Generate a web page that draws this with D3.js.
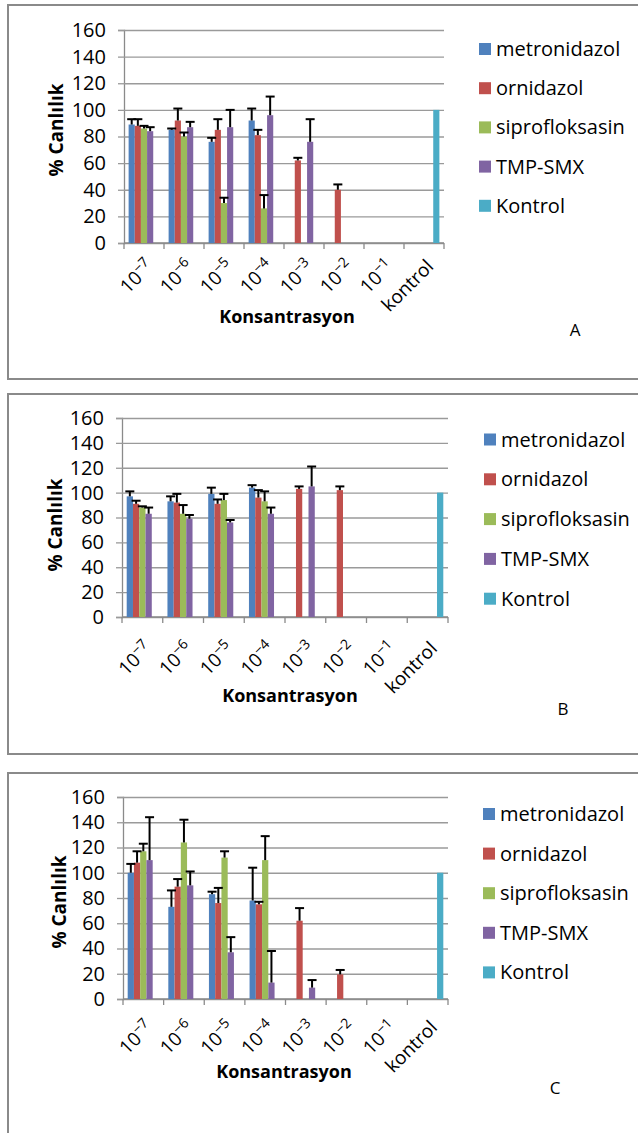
<!DOCTYPE html>
<html>
<head>
<meta charset="utf-8">
<script src="https://cdn.jsdelivr.net/npm/d3@7"></script>
<style>
  html, body { margin: 0; padding: 0; background: #fff; }
  svg { display: block; font-family: "Open Sans", sans-serif; }
</style>
</head>
<body>
<div id="chart"></div>
<script>
const categories = ['1e-7', '1e-6', '1e-5', '1e-4', '1e-3', '1e-2', '1e-1', 'kontrol'];
const tickBase = ['10', '10', '10', '10', '10', '10', '10', 'kontrol'];
const tickExp = ['−7', '−6', '−5', '−4', '−3', '−2', '−1', ''];
const yTicks = [0, 20, 40, 60, 80, 100, 120, 140, 160];
const seriesNames = ['metronidazol', 'ornidazol', 'siprofloksasin', 'TMP-SMX', 'Kontrol'];
const palette = ['#4f81bd', '#c0504d', '#9bbb59', '#8064a2', '#4bacc6'];
const panelLetters = ['A', 'B', 'C'];

const kontrol = [null, null, null, null, null, null, null, 100];
const kontrolErr = [0, 0, 0, 0, 0, 0, 0, 0];

// A
const aMetronidazol = [89, 85, 76, 92, null, null, null, null];
const aMetronidazolErr = [4, 1, 3, 9, 0, 0, 0, 0];
const aOrnidazol = [88, 92, 85, 81, 62, 40, null, null];
const aOrnidazolErr = [5, 9, 8, 4, 2, 4, 0, 0];
const aSiprofloksasin = [86, 80, 30, 26, null, null, null, null];
const aSiprofloksasinErr = [2, 3, 4, 10, 0, 0, 0, 0];
const aTmpSmx = [84, 87, 87, 96, 76, null, null, null];
const aTmpSmxErr = [3, 4, 13, 14, 17, 0, 0, 0];

// B
const bMetronidazol = [97, 93, 99, 104, null, null, null, null];
const bMetronidazolErr = [4, 4, 5, 2, 0, 0, 0, 0];
const bOrnidazol = [91, 92, 91, 96, 103, 102, null, null];
const bOrnidazolErr = [2.5, 7, 3.5, 6, 2, 3, 0, 0];
const bSiprofloksasin = [88, 83, 94, 93, null, null, null, null];
const bSiprofloksasinErr = [1, 7, 5, 8, 0, 0, 0, 0];
const bTmpSmx = [83, 79, 76, 83, 105, null, null, null];
const bTmpSmxErr = [5, 3, 2, 5, 16, 0, 0, 0];

// C
const cMetronidazol = [100, 73, 83, 78, null, null, null, null];
const cMetronidazolErr = [7, 13, 2, 26, 0, 0, 0, 0];
const cOrnidazol = [108, 89, 76, 75, 62, 19.5, null, null];
const cOrnidazolErr = [9, 6, 12, 2, 10, 3.5, 0, 0];
const cSiprofloksasin = [117, 124, 112, 110, null, null, null, null];
const cSiprofloksasinErr = [6, 18, 5, 19, 0, 0, 0, 0];
const cTmpSmx = [110, 90, 37, 13, 9, null, null, null];
const cTmpSmxErr = [34, 11, 12, 25, 6, 0, 0, 0];

const panels = [
  {
    frame: { top: 5, bottom: 379 },
    plot: { left: 124, right: 444, top: 30, bottom: 243 },
    legend: { x: 479, y: 49, step: 39.2 },
    labelOff: 20, xTitle: { x: 287, y: 323 }, yTitle: { x: 56, y: 130 },
    letter: { x: 575, y: 336 },
    values: [aMetronidazol, aOrnidazol, aSiprofloksasin, aTmpSmx, kontrol],
    errors: [aMetronidazolErr, aOrnidazolErr, aSiprofloksasinErr, aTmpSmxErr, kontrolErr]
  },
  {
    frame: { top: 394, bottom: 754 },
    plot: { left: 122, right: 448, top: 418, bottom: 617 },
    legend: { x: 484, y: 439.5, step: 39.8 },
    labelOff: 28, xTitle: { x: 290, y: 702 }, yTitle: { x: 55, y: 525 },
    letter: { x: 563, y: 715 },
    values: [bMetronidazol, bOrnidazol, bSiprofloksasin, bTmpSmx, kontrol],
    errors: [bMetronidazolErr, bOrnidazolErr, bSiprofloksasinErr, bTmpSmxErr, kontrolErr]
  },
  {
    frame: { top: 773, bottom: 1140 },
    plot: { left: 123, right: 448, top: 797, bottom: 999 },
    legend: { x: 483, y: 814, step: 39.6 },
    labelOff: 25, xTitle: { x: 284, y: 1078 }, yTitle: { x: 59, y: 902 },
    letter: { x: 555, y: 1094 },
    values: [cMetronidazol, cOrnidazol, cSiprofloksasin, cTmpSmx, kontrol],
    errors: [cMetronidazolErr, cOrnidazolErr, cSiprofloksasinErr, cTmpSmxErr, kontrolErr]
  }
];

const svg = d3.select('#chart').append('svg')
  .attr('width', 638)
  .attr('height', 1133);

function drawPanel(p, idx) {
  const g = svg.append('g');
  const { left, right, top, bottom } = p.plot;

  const x0 = d3.scaleBand().domain(categories).range([left, right]);
  const x1 = d3.scaleBand().domain(seriesNames).range([0, x0.bandwidth()]).paddingOuter(0.75);
  const y = d3.scaleLinear().domain([0, 160]).range([bottom, top]);

  // frame
  g.append('rect')
    .attr('x', 8).attr('y', p.frame.top)
    .attr('width', 640).attr('height', p.frame.bottom - p.frame.top)
    .attr('fill', 'none').attr('stroke', '#8a8a8a').attr('stroke-width', 2);

  // y axis + grid
  g.append('g')
    .attr('transform', `translate(${left},0)`)
    .call(d3.axisLeft(y).tickValues(yTicks).tickSize(6).tickPadding(12))
    .call(a => a.select('.domain').attr('stroke', '#8a8a8a').attr('stroke-width', 1.3))
    .call(a => a.selectAll('.tick line').attr('stroke', '#9a9a9a').attr('stroke-width', 1.3))
    .call(a => a.selectAll('.tick').append('line')
      .attr('x1', 0).attr('x2', right - left)
      .attr('stroke', '#9a9a9a').attr('stroke-width', 1.3))
    .call(a => a.selectAll('.tick text')
      .attr('fill', '#000').attr('font-size', 20).attr('font-family', '"Open Sans", sans-serif'));

  // x axis
  const xa = g.append('g');
  xa.append('line')
    .attr('x1', left).attr('x2', right).attr('y1', y(0)).attr('y2', y(0))
    .attr('stroke', '#8a8a8a').attr('stroke-width', 1.3);
  xa.selectAll('.xt')
    .data(categories.map(c => x0(c)).concat([x0.range()[1]]))
    .join('line')
    .attr('x1', d => d).attr('x2', d => d)
    .attr('y1', y(0)).attr('y2', y(0) + 6)
    .attr('stroke', '#8a8a8a').attr('stroke-width', 1.3);

  const lab = xa.selectAll('text')
    .data(categories)
    .join('text')
    .attr('transform', d => `translate(${x0(d) + x0.bandwidth() / 2 + 6},${y(0) + p.labelOff}) rotate(-45)`)
    .attr('text-anchor', 'end')
    .attr('dy', '0.35em')
    .attr('font-size', 19);
  lab.append('tspan').text((d, i) => tickBase[i]);
  lab.append('tspan')
    .attr('dy', '-0.5em')
    .attr('font-size', 14)
    .text((d, i) => tickExp[i]);

  // bars
  const bars = g.append('g');
  seriesNames.forEach((s, si) => {
    bars.append('g')
      .selectAll('rect')
      .data(categories.map((c, i) => ({ c, v: p.values[si][i] })).filter(d => d.v != null))
      .join('rect')
      .attr('x', d => x0(d.c) + x1(s))
      .attr('y', d => y(d.v))
      .attr('width', x1.bandwidth())
      .attr('height', d => y(0) - y(d.v))
      .attr('fill', palette[si]);
  });

  // error bars (plus only)
  const eb = g.append('g').attr('stroke', '#000').attr('stroke-width', 2);
  seriesNames.forEach((s, si) => {
    const pts = categories
      .map((c, i) => ({ c, v: p.values[si][i], e: p.errors[si][i] }))
      .filter(d => d.v != null && d.e > 0);
    const cx = d => x0(d.c) + x1(s) + x1.bandwidth() / 2;
    eb.append('g').selectAll('line')
      .data(pts).join('line')
      .attr('x1', cx).attr('x2', cx)
      .attr('y1', d => y(d.v)).attr('y2', d => y(d.v + d.e));
    eb.append('g').selectAll('line')
      .data(pts).join('line')
      .attr('x1', d => cx(d) - 4.5).attr('x2', d => cx(d) + 4.5)
      .attr('y1', d => y(d.v + d.e)).attr('y2', d => y(d.v + d.e));
  });

  // axis titles
  g.append('text')
    .attr('x', p.xTitle.x).attr('y', p.xTitle.y)
    .attr('text-anchor', 'middle')
    .attr('font-size', 18).attr('font-weight', 'bold')
    .text('Konsantrasyon');
  g.append('text')
    .attr('transform', `translate(${p.yTitle.x},${p.yTitle.y}) rotate(-90)`)
    .attr('text-anchor', 'middle').attr('dy', '0.35em')
    .attr('font-size', 19).attr('font-weight', 'bold')
    .text('% Canlılık');

  // legend
  const lg = g.append('g')
    .selectAll('g')
    .data(seriesNames)
    .join('g')
    .attr('transform', (d, i) => `translate(${p.legend.x},${p.legend.y + i * p.legend.step})`);
  lg.append('rect')
    .attr('x', 0).attr('y', -6).attr('width', 12).attr('height', 12)
    .attr('fill', (d, i) => palette[i]);
  lg.append('text')
    .attr('x', 17).attr('y', 7)
    .attr('font-size', 20)
    .text(d => d);

  g.append('text')
    .attr('x', p.letter.x).attr('y', p.letter.y)
    .attr('text-anchor', 'middle')
    .attr('font-size', 17)
    .text(panelLetters[idx]);
}

panels.forEach(drawPanel);
</script>
</body>
</html>
